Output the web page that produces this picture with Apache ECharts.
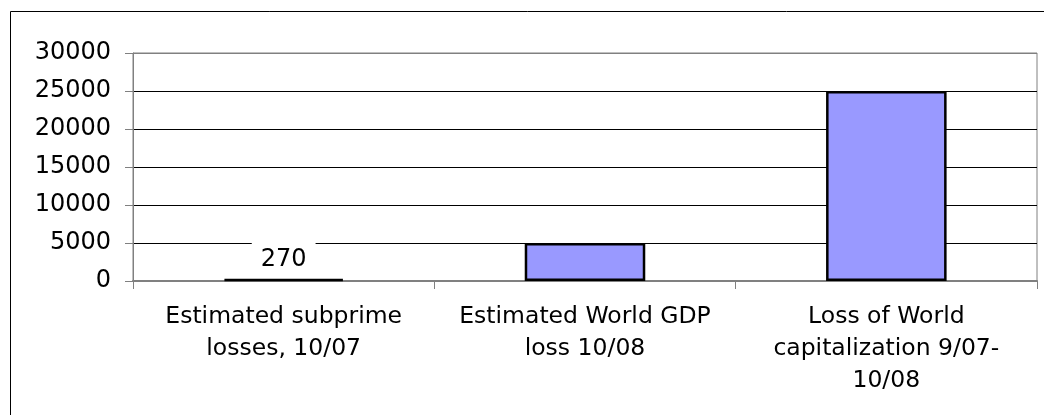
<!DOCTYPE html>
<html>
<head>
<meta charset="utf-8">
<script src="https://cdn.jsdelivr.net/npm/echarts@6/dist/echarts.min.js"></script>
<style>
html,body{margin:0;padding:0;background:#fff;}
#chart{width:1044px;height:415px;}
</style>
</head>
<body>
<div id="chart"></div>
<script>
const categories = [
  'Estimated subprime\nlosses, 10/07',
  'Estimated World GDP\nloss 10/08',
  'Loss of World\ncapitalization 9/07-\n10/08'
];
const values = [270, 5000, 25000];
const labelledIndex = [0]; // only the first bar carries a value label
const yTicks = { min: 0, max: 30000, interval: 5000 };

const chart = echarts.init(document.getElementById('chart'), null, {renderer: 'canvas'});
const FONT = 'DejaVu Sans';

chart.setOption({
  animation: false,
  backgroundColor: '#fff',
  graphic: [{
    type: 'rect',
    shape: {x: 10.5, y: 11.5, width: 1200, height: 600},
    style: {fill: 'none', stroke: '#000', lineWidth: 1},
    silent: true
  }],
  grid: {
    left: 133, right: 7, top: 53, bottom: 134,
    show: true, borderColor: '#808080', borderWidth: 1, backgroundColor: 'transparent'
  },
  xAxis: {
    type: 'category',
    data: categories,
    axisLine: {lineStyle: {color: '#808080', width: 2}},
    axisTick: {show: true, length: 8, lineStyle: {color: '#808080', width: 1}},
    axisLabel: {
      color: '#000', fontFamily: FONT, fontSize: 23.5, lineHeight: 32,
      margin: 20, interval: 0
    },
    splitLine: {show: false}
  },
  yAxis: {
    type: 'value',
    min: yTicks.min, max: yTicks.max, interval: yTicks.interval,
    axisLine: {show: true, lineStyle: {color: '#808080', width: 1}},
    axisTick: {show: true, length: 8, lineStyle: {color: '#808080'}},
    axisLabel: {color: '#000', fontFamily: FONT, fontSize: 24, margin: 22,
      formatter: v => String(v)},
    splitLine: {show: true, lineStyle: {color: ['#808080','#000','#000','#000','#000','#000','#808080'], width: 1}}
  },
  series: [{
    type: 'bar',
    data: values.map((v, i) => ({
      value: v,
      label: {
        show: labelledIndex.includes(i),
        position: 'top',
        distance: 1,
        color: '#000',
        fontFamily: FONT,
        fontSize: 24,
        lineHeight: 26,
        backgroundColor: '#fff',
        padding: [6, 9, 5, 9]
      }
    })),
    barWidth: '40%',
    itemStyle: {color: '#9999FF', borderColor: '#000', borderWidth: 2.5},
    z: 3
  }]
});
</script>
</body>
</html>
